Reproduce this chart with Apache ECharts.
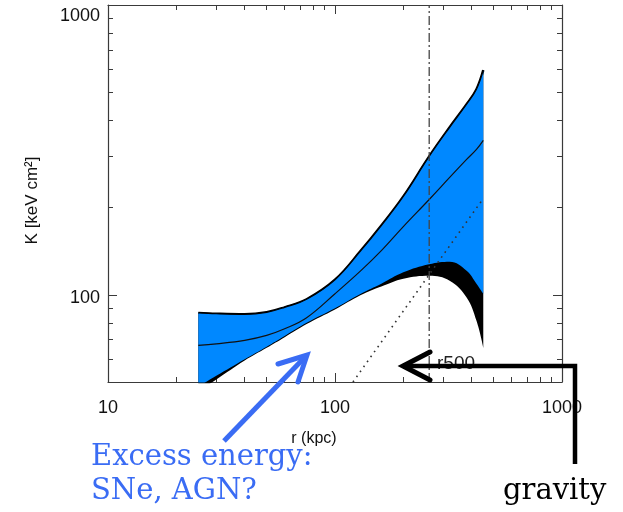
<!DOCTYPE html>
<html>
<head>
<meta charset="utf-8">
<script src="https://cdn.jsdelivr.net/npm/echarts@6/dist/echarts.min.js"></script>
<style>
  html, body { margin: 0; padding: 0; background: #fff; }
  #chart { width: 623px; height: 512px; }
</style>
</head>
<body>
<div id="chart"></div>
<script>
// radius (kpc) sampled along the profile
const radius = [25, 30, 40, 50, 60, 75, 100, 130, 160, 200, 260, 320, 380, 420, 450]
// upper edge of the band
const kUpper = [86.6, 86.0, 85.6, 87.0, 90.5, 96.5, 112.7, 142.0, 173.3, 218.3, 300.2, 378.4, 454.4, 512.1, 596.0]
// lower edge of the blue band
const kBlueLow = [48.2, 52.5, 59.9, 66.2, 72.1, 80.0, 89.8, 100.8, 109.2, 119.6, 127.5, 130.1, 121.1, 109.2, 100.8]
// lower edge of the black band
const kBlackLow = [46.5, 51.0, 59.3, 65.6, 71.4, 79.3, 89.0, 99.8, 106.8, 113.6, 116.3, 111.8, 97.9, 81.3, 65.7]
// best fit
const kMid = [66.9, 67.7, 69.6, 72.4, 76.3, 83.3, 100.8, 121.1, 142.0, 171.9, 213.2, 254.0, 293.2, 317.5, 341.2]
// gravity-only baseline (power law, two end points)
const baseR = [120, 450]
const baseK = [50, 215]
const r500 = 260
// axes
const xMajor = [10, 100, 1000]
const xMinor = [20, 30, 40, 50, 60, 70, 80, 90, 200, 300, 400, 500, 600, 700, 800, 900]
const yMajor = [100, 1000]
const yMinor = [60, 70, 80, 90, 200, 300, 400, 500, 600, 700, 800, 900]
const yMin = 50
const yMax = 1000

const lg = v => Math.log10(v)
const chart = echarts.init(document.getElementById('chart'))

const axisColor = '#3a3a3a'
const lab = { fontFamily: 'Liberation Sans', fontSize: 18, color: '#111' }

// 坐标轴：主刻度 + 次刻度，四边都画
const makeAxis = (kind, position, major, min, max, withLabel) => {
  const isMinor = !major
  const ticks = (major || (kind === 'x' ? xMinor : yMinor)).map(lg)
  const axis = {
    type: 'value',
    position: position,
    min: lg(min),
    max: lg(max),
    splitLine: { show: false },
    axisLine: { show: !isMinor, onZero: false, lineStyle: { color: axisColor, width: 1.2 } },
    axisTick: {
      show: true,
      inside: true,
      length: isMinor ? 5 : 9,
      customValues: ticks,
      lineStyle: { color: axisColor, width: 1 }
    },
    axisLabel: { show: false }
  }
  if (withLabel) {
    axis.axisLabel = {
      show: true,
      customValues: major.map(lg),
      ...lab
    }
    if (kind === 'x') {
      axis.axisLabel.margin = 17
      axis.axisLabel.formatter = v => String(Math.round(Math.pow(10, v)))
    } else {
      axis.axisLabel.margin = 8
      axis.axisLabel.formatter = v => {
        const s = String(Math.round(Math.pow(10, v)))
        return v > 2.9 ? '{t|' + s + '}' : '{n|' + s + '}'
      }
      axis.axisLabel.rich = {
        t: { ...lab, padding: [22, 0, 0, 0] },
        n: { ...lab, padding: [6, 0, 0, 0] }
      }
    }
  }
  return axis
}

const xAxes = [
  makeAxis('x', 'bottom', xMajor, 10, 1000, true),
  makeAxis('x', 'bottom', null, 10, 1000, false),
  makeAxis('x', 'top', xMajor, 10, 1000, false),
  makeAxis('x', 'top', null, 10, 1000, false)
]
xAxes[0].name = 'r (kpc)'
xAxes[0].nameLocation = 'middle'
xAxes[0].nameGap = 49
xAxes[0].nameTextStyle = { fontFamily: 'Liberation Sans', fontSize: 16, color: '#111', padding: [0, 42, 0, 0] }

const yAxes = [
  makeAxis('y', 'left', yMajor, yMin, yMax, true),
  makeAxis('y', 'left', null, yMin, yMax, false),
  makeAxis('y', 'right', yMajor, yMin, yMax, false),
  makeAxis('y', 'right', null, yMin, yMax, false)
]
yAxes[0].name = 'K [keV cm²]'
yAxes[0].nameLocation = 'middle'
yAxes[0].nameGap = 67
yAxes[0].nameTextStyle = { fontFamily: 'Liberation Sans', fontSize: 17, color: '#111', padding: [0, 14, 0, 0] }

// 数据放成 [y, x]，让堆叠落在 y 维
const pts = (rs, ks) => rs.map((r, i) => [lg(ks[i]), lg(r)])
const diff = (hi, lo) => radius.map((r, i) => [lg(hi[i]) - lg(lo[i]), lg(r)])
const noSym = { showSymbol: false, symbol: 'none', silent: true, encode: { x: 1, y: 0 } }
const sm = { smooth: 0.4 }

const option = {
  animation: false,
  backgroundColor: '#fff',
  grid: { left: 108, right: 61, top: 5, bottom: 130 },
  xAxis: xAxes,
  yAxis: yAxes,
  series: [
    // 黑色外带
    { type: 'line', ...noSym, ...sm, stack: 'outer', data: pts(radius, kBlackLow), lineStyle: { opacity: 0 }, z: 1 },
    { type: 'line', ...noSym, ...sm, stack: 'outer', data: diff(kUpper, kBlackLow), lineStyle: { color: '#000', width: 2.5 }, areaStyle: { color: '#000', opacity: 1 }, z: 1 },
    // 蓝色带
    { type: 'line', ...noSym, ...sm, stack: 'inner', data: pts(radius, kBlueLow), lineStyle: { opacity: 0 }, z: 2 },
    { type: 'line', ...noSym, ...sm, stack: 'inner', data: diff(kUpper, kBlueLow), lineStyle: { color: '#000', width: 1.2 }, areaStyle: { color: '#0088ff', opacity: 1 }, z: 2 },
    // 中线
    { type: 'line', ...noSym, ...sm, data: pts(radius, kMid), lineStyle: { color: '#111', width: 1.2 }, z: 3 },
    // 重力基线
    { type: 'line', ...noSym, data: pts(baseR, baseK), lineStyle: { color: '#333', width: 1.6, type: [1.6, 4.5] }, z: 4 },
    // r500
    { type: 'line', ...noSym, data: [[lg(yMin), lg(r500)], [lg(yMax), lg(r500)]], lineStyle: { color: '#444', width: 1.3, type: [9, 3, 2, 3] }, z: 4 }
  ],
  graphic: [
    { type: 'text', z: 10, style: { text: 'r500', x: 437, y: 364, verticalAlign: 'middle', font: '19px "Liberation Sans"', fill: '#222' } },
    { type: 'polyline', z: 11, shape: { points: [[575, 464], [575, 366], [403, 366]] }, style: { stroke: '#000', lineWidth: 4.5, fill: null } },
    { type: 'polyline', z: 11, shape: { points: [[430, 352], [403, 366], [430, 380]] }, style: { stroke: '#000', lineWidth: 5, fill: null, lineCap: 'round', lineJoin: 'miter' } },
    { type: 'line', z: 11, shape: { x1: 224, y1: 441, x2: 306, y2: 356 }, style: { stroke: '#3a6cf4', lineWidth: 5 } },
    { type: 'polyline', z: 11, shape: { points: [[278, 364], [307, 355], [298, 382]] }, style: { stroke: '#3a6cf4', lineWidth: 5, fill: null, lineCap: 'round' } },
    { type: 'text', z: 10, style: { text: 'Excess energy:', x: 91, y: 457, verticalAlign: 'middle', font: '29px "DejaVu Serif"', fill: '#3a6cf4' } },
    { type: 'text', z: 10, style: { text: 'SNe, AGN?', x: 91, y: 491, verticalAlign: 'middle', font: '29px "DejaVu Serif"', fill: '#3a6cf4' } },
    { type: 'text', z: 10, style: { text: 'gravity', x: 503, y: 491, verticalAlign: 'middle', font: '29px "DejaVu Serif"', fill: '#000' } }
  ]
}
chart.setOption(option)
</script>
</body>
</html>
